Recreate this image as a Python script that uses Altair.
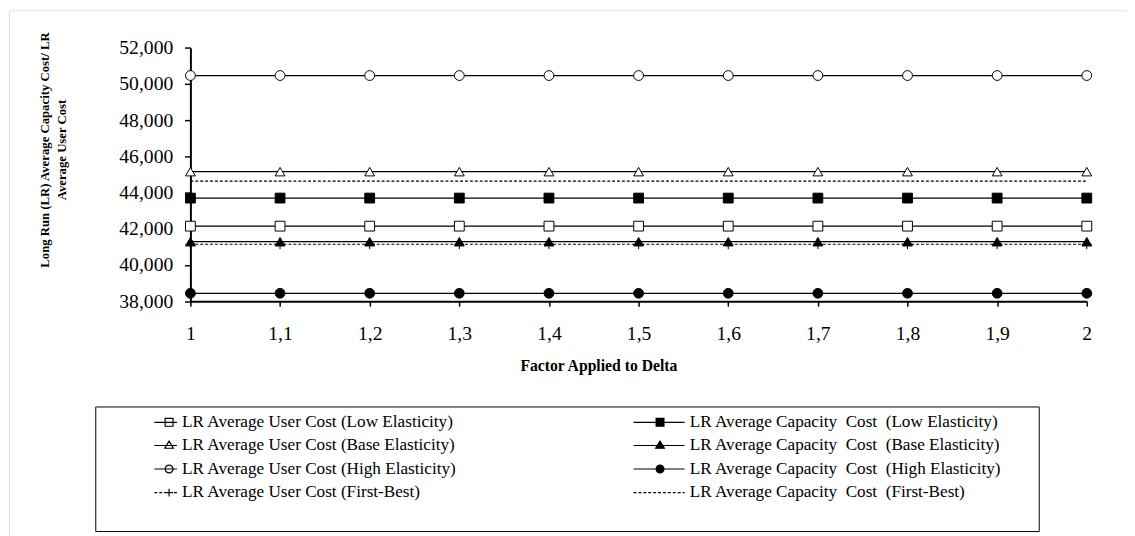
import altair as alt
import pandas as pd

# ---------------- data ----------------
factor = [1.0, 1.1, 1.2, 1.3, 1.4, 1.5, 1.6, 1.7, 1.8, 1.9, 2.0]

user_low = [42150, 42150, 42150, 42150, 42150, 42150, 42150, 42150, 42150, 42150, 42150]
user_base = [45160, 45160, 45160, 45160, 45160, 45160, 45160, 45160, 45160, 45160, 45160]
user_high = [50470, 50470, 50470, 50470, 50470, 50470, 50470, 50470, 50470, 50470, 50470]
user_fb = [41150, 41150, 41150, 41150, 41150, 41150, 41150, 41150, 41150, 41150, 41150]
cap_low = [43700, 43700, 43700, 43700, 43700, 43700, 43700, 43700, 43700, 43700, 43700]
cap_base = [41290, 41290, 41290, 41290, 41290, 41290, 41290, 41290, 41290, 41290, 41290]
cap_high = [38440, 38440, 38440, 38440, 38440, 38440, 38440, 38440, 38440, 38440, 38440]
cap_fb = [44640, 44640, 44640, 44640, 44640, 44640, 44640, 44640, 44640, 44640, 44640]

NB = "\u00a0"
TAIL = "\u2800" + NB + "\u2800"  # blank filler giving the legend box its right margin
series_names = [
    "LR Average User Cost (Low Elasticity)",
    "LR Average User Cost (Base Elasticity)",
    "LR Average User Cost (High Elasticity)",
    "LR Average User Cost (First-Best)",
    f"LR Average Capacity{NB} Cost{NB} (Low Elasticity){TAIL}",
    f"LR Average Capacity{NB} Cost{NB} (Base Elasticity){TAIL}",
    f"LR Average Capacity{NB} Cost{NB} (High Elasticity){TAIL}",
    f"LR Average Capacity{NB} Cost{NB} (First-Best){TAIL}",
]
series_values = [user_low, user_base, user_high, user_fb, cap_low, cap_base, cap_high, cap_fb]

y_ticks = [38000, 40000, 42000, 44000, 46000, 48000, 50000, 52000]
x_ticks = factor

rows = []
for name, vals in zip(series_names, series_values):
    for xv, yv in zip(factor, vals):
        rows.append({"series": name, "factor": xv, "value": yv})
df = pd.DataFrame(rows)

# ---------------- styles ----------------
FONT = "Liberation Serif"
W, H = 1140, 545
X_RANGE = [185, 1099]
Y_RANGE = [296.7, 38.3]

dash_styles = [[1, 0], [1, 0], [1, 0], [3, 2], [1, 0], [1, 0], [1, 0], [3, 2]]
marker_series = series_names[:7]
plus_path = "M-1,0H1M0,-1V1"
marker_shapes = ["square", "triangle-up", "circle", plus_path, "square", "triangle-up", "circle"]
marker_fills = ["white", "white", "white", "white", "black", "black", "black"]


def dashed(x0, x1, dash=0.75, gap=0.5):
    parts = []
    x = x0
    while x < x1:
        e = min(x + dash, x1)
        parts.append(f"M{x:.2f},0H{e:.2f}")
        x = e + gap
    return "".join(parts)


def sq(c):
    return f"M{c-1:.2f},-1H{c+1:.2f}V1H{c-1:.2f}Z"


def tri(c):
    return f"M{c:.2f},-1.1L{c+1.1:.2f},0.7H{c-1.1:.2f}Z"


def circ(c):
    return f"M{c-1:.2f},0A1,1 0 1,0 {c+1:.2f},0A1,1 0 1,0 {c-1:.2f},0"


L1, L2 = -4.75, -12
legend_paths = [
    f"M{L1},0H1" + sq(-1),
    f"M{L1},0H1" + tri(-1),
    f"M{L1},0H1" + circ(-1),
    dashed(L1, 1) + "M-2,0H0M-1,-1V1",
    f"M{L2},0H1" + sq(-5.25),
    f"M{L2},0H1" + tri(-5.25),
    f"M{L2},0H1" + circ(-5.25),
    dashed(L2, 1),
]
legend_fills = ["white", "white", "white", "white", "black", "black", "black", "white"]
legend_strokes = ["black"] * 8

x_enc = alt.X(
    "factor:Q",
    scale=alt.Scale(domain=[1, 2], range=X_RANGE, nice=False, zero=False),
    axis=alt.Axis(
        values=x_ticks,
        labelExpr="replace(format(datum.value, '.1~f'), '.', ',')",
        orient="bottom",
        offset=-(H - Y_RANGE[0]),
        grid=False,
        domainColor="black",
        domainWidth=2,
        tickColor="black",
        tickWidth=1.5,
        tickSize=5,
        labelFont=FONT,
        labelFontSize=20,
        labelColor="black",
        labelBaseline="middle",
        labelPadding=28,
        labelFlush=False,
        labelOverlap=False,
        title="Factor Applied to Delta",
        titleFont=FONT,
        titleFontSize=16,
        titleFontWeight="bold",
        titleColor="black",
        titleX=601,
        titleY=66,
        titleAlign="center",
        titleBaseline="middle",
    ),
)

y_enc = alt.Y(
    "value:Q",
    scale=alt.Scale(domain=[38000, 52000], range=Y_RANGE, nice=False, zero=False),
    axis=alt.Axis(
        values=y_ticks,
        format=",.0f",
        orient="left",
        offset=-X_RANGE[0],
        grid=False,
        domainColor="black",
        domainWidth=2,
        tickColor="black",
        tickWidth=1.5,
        tickSize=6,
        labelFont=FONT,
        labelFontSize=20,
        labelColor="black",
        labelPadding=12,
        labelFlush=False,
        labelOverlap=False,
        title=["Long Run (LR) Average Capacity Cost/ LR", "Average User Cost"],
        titleFont=FONT,
        titleFontSize=13,
        titleFontWeight="bold",
        titleColor="black",
        titleLineHeight=18,
        titleX=-149,
        titleY=142,
        titleAngle=270,
        titleAlign="center",
        titleBaseline="middle",
    ),
)

lines = alt.Chart(df).mark_line(color="black", strokeWidth=1.2).encode(
    x=x_enc,
    y=y_enc,
    detail="series:N",
    strokeDash=alt.StrokeDash(
        "series:N",
        scale=alt.Scale(domain=series_names, range=dash_styles),
        legend=None,
    ),
)

points = (
    alt.Chart(df)
    .transform_filter(alt.FieldOneOfPredicate(field="series", oneOf=marker_series))
    .mark_point(filled=True, stroke="black", strokeWidth=1, opacity=1, size=100)
    .encode(
        x="factor:Q",
        y="value:Q",
        shape=alt.Shape("series:N", scale=alt.Scale(domain=marker_series, range=marker_shapes), legend=None),
        fill=alt.Fill("series:N", scale=alt.Scale(domain=marker_series, range=marker_fills), legend=None),
    )
)

legend_layer = (
    alt.Chart(df)
    .transform_filter("datum.value > 1000000")
    .mark_point(filled=True, strokeWidth=1.2, opacity=1)
    .encode(
        x="factor:Q",
        y="value:Q",
        shape=alt.Shape(
            "series:N",
            scale=alt.Scale(domain=series_names, range=legend_paths),
            legend=alt.Legend(
                title=NB,
                orient="none",
                legendX=88,
                legendY=404,
                columns=2,
                columnPadding=155.6,
                rowPadding=5,
                padding=7,
                symbolSize=64,
                symbolStrokeWidth=1.2,
                symbolStrokeColor="black",
                symbolOffset=63.5,
                labelFont=FONT,
                labelFontSize=17.5,
                labelColor="black",
                labelOffset=0.5,
                labelLimit=0,
                strokeColor="black",
                fillColor="white",
                titleOrient="bottom",
                titleFontSize=17,
                titlePadding=8,
            ),
        ),
        fill=alt.Fill(
            "series:N",
            scale=alt.Scale(domain=series_names, range=legend_fills),
            legend=alt.Legend(title=NB),
        ),
        stroke=alt.Stroke(
            "series:N",
            scale=alt.Scale(domain=series_names, range=legend_strokes),
            legend=alt.Legend(title=NB),
        ),
    )
)

chart = (
    alt.layer(lines, points, legend_layer)
    .resolve_scale(shape="independent", fill="independent", strokeDash="independent", stroke="independent")
    .properties(
        width=W,
        height=H,
        padding={"left": 1, "top": -3, "right": 0, "bottom": 0},
        autosize=alt.AutoSizeParams(type="none"),
    )
    .configure_view(stroke="#333333", strokeWidth=1.5)
    .configure(background="white")
)

chart.save("out.html", embed_options={"renderer": "svg", "actions": False})
